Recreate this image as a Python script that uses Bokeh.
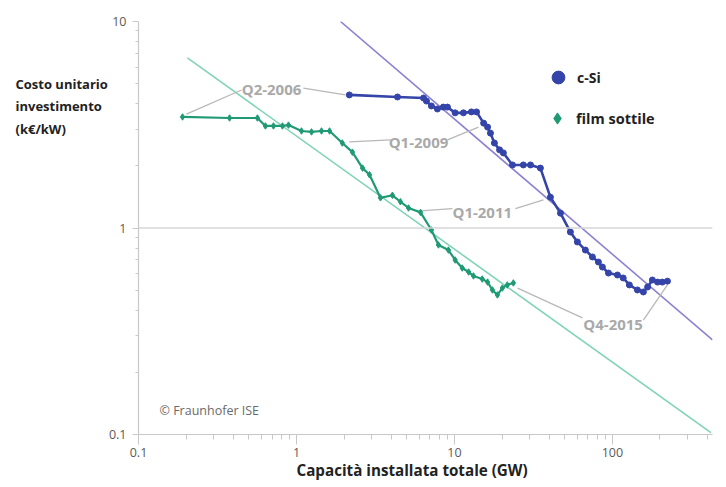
from bokeh.plotting import figure
from bokeh.models import (Range1d, FixedTicker, Label, Legend, LegendItem, Span,
                          CustomJSTickFormatter)
from bokeh.embed import file_html
from bokeh.resources import INLINE

# ---------------- data ----------------
csi_x = [2.16, 4.36, 6.37, 6.65, 7.15, 7.8, 8.5, 9.03, 10.1, 11.4, 12.8, 13.8, 15.3, 16.2,
         16.9, 17.9, 19.3, 20.4, 23.3, 27.3, 30.3, 35.0, 40.5, 46.9, 54.2, 60.0, 67.4, 74.7,
         81.5, 86.4, 94.4, 107.6, 117, 128, 144, 157, 167, 179, 193, 207, 223]
csi_y = [4.41, 4.31, 4.26, 4.12, 3.90, 3.77, 3.85, 3.85, 3.61, 3.61, 3.65, 3.65, 3.22, 3.08,
         2.88, 2.58, 2.39, 2.31, 2.02, 2.02, 2.02, 1.95, 1.41, 1.18, 0.956, 0.856, 0.782, 0.724,
         0.684, 0.647, 0.605, 0.592, 0.573, 0.530, 0.501, 0.490, 0.518, 0.560, 0.547, 0.547, 0.553]

film_x = [0.19, 0.377, 0.566, 0.636, 0.715, 0.815, 0.890, 1.076, 1.245, 1.44, 1.62, 1.95,
          2.26, 2.62, 2.90, 3.40, 4.05, 4.55, 5.12, 6.10, 7.15, 7.92, 9.16, 10.1, 11.2, 12.3,
          13.2, 15.0, 16.2, 17.4, 18.7, 20.1, 21.6, 23.6]
film_y = [3.45, 3.41, 3.41, 3.12, 3.12, 3.12, 3.15, 2.95, 2.92, 2.95, 2.95, 2.58,
          2.33, 1.95, 1.81, 1.40, 1.44, 1.34, 1.25, 1.19, 0.978, 0.828, 0.782, 0.700, 0.640, 0.612,
          0.586, 0.566, 0.547, 0.501, 0.474, 0.512, 0.530, 0.542]

csi_trend_x = [1.9, 430]
csi_trend_y = [10, 0.287]
film_trend_x = [0.204, 420]
film_trend_y = [6.66, 0.102]

callout_labels = ["Q2-2006", "Q1-2009", "Q1-2011", "Q4-2015"]
callout_x = [0.695, 5.92, 15.0, 101]
callout_y = [4.71, 2.61, 1.195, 0.343]
leader_xs = [[0.201, 0.449], [1.107, 2.04], [2.16, 3.94], [9.04, 14.2],
             [6.10, 9.7], [24.3, 36.6], [25.1, 64.6], [157, 223]]
leader_ys = [[3.56, 4.66], [4.76, 4.41], [2.61, 2.67], [2.67, 3.08],
             [1.21, 1.24], [1.24, 1.37], [0.512, 0.367], [0.358, 0.530]]

x_ticks = [0.1, 1, 10, 100]
y_ticks = [0.1, 1, 10]
series_names = ["c-Si", "film sottile"]
y_title = "Costo unitario\ninvestimento\n(k€/kW)"
x_title = "Capacità installata totale (GW)"
credit = "© Fraunhofer ISE"

# ---------------- styles ----------------
BLUE = "#3444a8"
GREEN = "#1f9a74"
BLUE_TREND = "#8c82d2"
GREEN_TREND = "#80d4b6"
GRAY_TXT = "#a9a9a9"
GRAY_LINE = "#b8b8b8"
AXIS_C = "#c8c8c8"
DARK = "#222222"
FONT = "Open Sans"

p = figure(width=726, height=487, x_axis_type="log", y_axis_type="log",
           x_range=Range1d(0.1, 430), y_range=Range1d(0.1, 10),
           output_backend="svg", toolbar_location=None,
           min_border_left=138, min_border_right=14, min_border_top=21,
           min_border_bottom=53)
p.outline_line_color = None
p.grid.visible = False
p.background_fill_color = "white"

p.add_layout(Span(location=1, dimension="width", line_color="#d6d6d6", line_width=1.3))

minor_x = [m * 10.0 ** e for e in range(-1, 3) for m in range(2, 10) if m * 10.0 ** e < 430]
minor_y = [m * 10.0 ** e for e in range(-1, 1) for m in range(2, 10)]
p.xaxis.ticker = FixedTicker(ticks=x_ticks, minor_ticks=minor_x)
p.yaxis.ticker = FixedTicker(ticks=y_ticks, minor_ticks=minor_y)
p.xaxis.formatter = CustomJSTickFormatter(code="return tick < 1 ? tick.toFixed(1) : tick.toFixed(0);")
p.yaxis.formatter = CustomJSTickFormatter(code="return tick < 1 ? tick.toFixed(1) : tick.toFixed(0);")

for ax in (p.xaxis[0], p.yaxis[0]):
    ax.axis_line_color = AXIS_C
    ax.axis_line_width = 1.2
    ax.major_tick_line_color = AXIS_C
    ax.minor_tick_line_color = AXIS_C
    ax.major_tick_in = 0
    ax.minor_tick_in = 0
    ax.major_label_text_color = "#5a5a5a"
    ax.major_label_text_font = FONT
    ax.major_label_text_font_size = "12.5px"
p.xaxis.major_tick_out = 10
p.xaxis.minor_tick_out = 5
p.xaxis.major_label_standoff = 3
p.yaxis.major_tick_out = 6
p.yaxis.minor_tick_out = 3
p.yaxis.major_label_standoff = 6

# trend lines
p.line(csi_trend_x, csi_trend_y, line_color=BLUE_TREND, line_width=1.6)
p.line(film_trend_x, film_trend_y, line_color=GREEN_TREND, line_width=1.6)

# leader lines
p.multi_line(leader_xs, leader_ys, line_color=GRAY_LINE, line_width=1.3)

# series
p.line(csi_x, csi_y, line_color=BLUE, line_width=2.6)
r_csi = p.scatter(csi_x, csi_y, marker="circle", size=6, fill_color=BLUE, line_color=BLUE)
p.line(film_x, film_y, line_color=GREEN, line_width=2.2)
r_film = p.scatter(film_x, film_y, marker="diamond", size=6.5,
                   fill_color=GREEN, line_color=GREEN)

# callout labels
for t, cx, cy in zip(callout_labels, callout_x, callout_y):
    p.add_layout(Label(x=cx, y=cy, text=t, text_align="center", text_baseline="middle",
                       text_color=GRAY_TXT, text_font=FONT, text_font_style="bold",
                       text_font_size="15px"))

# legends (separate so marker sizes can differ)
leg1 = Legend(items=[LegendItem(label=series_names[0], renderers=[r_csi])],
              location=(404, 341), glyph_width=32, glyph_height=32,
              label_standoff=3, padding=0, margin=0, border_line_color=None,
              background_fill_alpha=0, label_text_font=FONT, label_text_font_style="bold",
              label_text_font_size="14px", label_text_color=DARK)
leg2 = Legend(items=[LegendItem(label=series_names[1], renderers=[r_film])],
              location=(405, 302), glyph_width=28, glyph_height=28,
              label_standoff=5, padding=0, margin=0, border_line_color=None,
              background_fill_alpha=0, label_text_font=FONT, label_text_font_style="bold",
              label_text_font_size="14.5px", label_text_color=DARK)
p.add_layout(leg1)
p.add_layout(leg2)

# axis titles in side panels (side-panel annotations are not clipped)
p.add_layout(Label(x=2, y=360, x_units="screen", y_units="screen", text=y_title,
                   text_align="left", text_baseline="top", text_color=DARK,
                   text_font=FONT, text_font_style="bold", text_font_size="13px",
                   text_line_height=1.26), "left")
p.add_layout(Label(x=158, y=0, x_units="screen", y_units="screen", text=x_title,
                   text_align="left", text_baseline="bottom", text_color=DARK,
                   text_font=FONT, text_font_style="bold", text_font_size="15.2px"), "below")
p.add_layout(Label(x=21, y=24, x_units="screen", y_units="screen",
                   text=credit, text_align="left", text_baseline="middle",
                   text_color="#6a6a6a", text_font=FONT, text_font_size="12.5px"))

open("out.html", "w").write(file_html(p, INLINE))
